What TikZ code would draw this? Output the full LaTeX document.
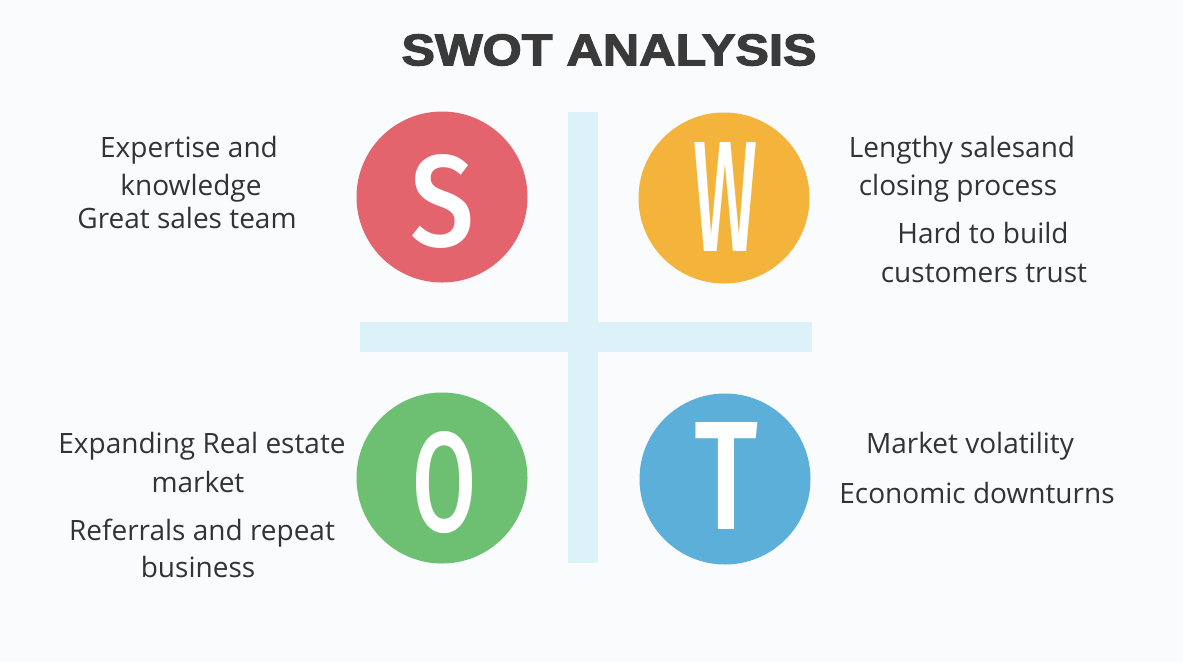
\documentclass[tikz,border=0pt]{standalone}
\usepackage{fontspec}
\usepackage{graphicx}
\setmainfont{Open Sans}
\newfontfamily\titlefont[FakeBold=2.5]{Liberation Sans Bold}
\newfontfamily\letterfont{Fira Sans Medium}
\definecolor{bgtint}{HTML}{F9FBFC}
\definecolor{crossblue}{HTML}{DDF2F8}
\definecolor{sred}{HTML}{E4646E}
\definecolor{worange}{HTML}{F4B43C}
\definecolor{ogreen}{HTML}{6DBF72}
\definecolor{tblue}{HTML}{5BAFD8}
\definecolor{inkdark}{HTML}{3A3A3A}
\definecolor{inkbody}{HTML}{333333}
\begin{document}
\begin{tikzpicture}[x=1pt,y=-1pt,
  badge/.style={circle,minimum size=171pt,inner sep=0pt},
  letter/.style={text=white,inner sep=0pt,font=\letterfont\fontsize{60}{60}\selectfont},
  body/.style={text=inkbody,inner sep=0pt,anchor=base,font=\fontsize{28}{30}\selectfont},
  bar/.style={fill=crossblue,draw=none}
]
  % page
  \fill[bgtint] (0,0) rectangle (1183,662);
  \useasboundingbox (0,0) rectangle (1183,662);

  % title
  \node[text=inkdark,inner sep=0pt] (title) at (609,50)
    {\resizebox{415pt}{31pt}{\titlefont SWOT ANALYSIS}};

  % cross between the quadrants
  \fill[bar] (568,112) rectangle (598,563);
  \fill[bar] (360,322) rectangle (812,352);

  % the four badges
  \node[badge,fill=sred]    (S) at (442,197) {};
  \node[badge,fill=worange] (W) at (724,198) {};
  \node[badge,fill=ogreen]  (O) at (442,478) {};
  \node[badge,fill=tblue]   (T) at (725,479) {};

  \node[letter] (Sl) at (443,201) {\resizebox{64pt}{92pt}{S}};
  \node[letter] (Wl) at (725,197) {\resizebox{64pt}{109pt}{W}};
  \node[letter] (Ol) at (444,483) {\resizebox{64pt}{100pt}{O}};
  \node[letter] (Tl) at (726,476) {\resizebox{64pt}{107pt}{T}};

  % strengths
  \node[body] (s1) at (189,157) {Expertise and};
  \node[body] (s2) at (191,195) {knowledge};
  \node[body] (s3) at (187,228) {Great sales team};

  % weaknesses
  \node[body] (w1) at (962,157) {Lengthy salesand};
  \node[body] (w2) at (958,195) {closing process};
  \node[body] (w3) at (983,243) {Hard to build};
  \node[body] (w4) at (984,282) {customers trust};

  % opportunities
  \node[body] (o1) at (202,453) {Expanding Real estate};
  \node[body] (o2) at (198,492) {market};
  \node[body] (o3) at (202,540) {Referrals and repeat};
  \node[body] (o4) at (198,577) {business};

  % threats
  \node[body] (t1) at (970,453) {Market volatility};
  \node[body] (t2) at (977,503) {Economic downturns};
\end{tikzpicture}
\end{document}
